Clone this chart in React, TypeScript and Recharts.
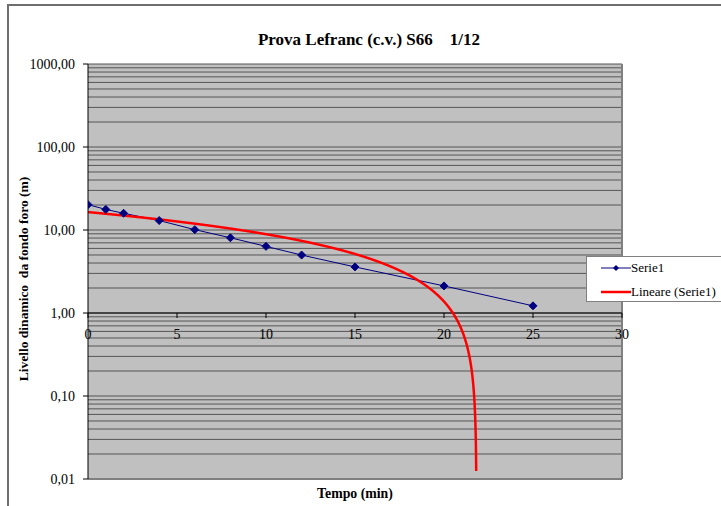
import React from 'react';
import { ComposedChart, Line, XAxis, YAxis, CartesianGrid, ReferenceLine } from 'recharts';

// Prova Lefranc S66 - livello dinamico nel tempo
const tempo = [0, 1, 2, 4, 6, 8, 10, 12, 15, 20, 25];
const livello = [20.2, 17.7, 15.9, 13.0, 10.1, 8.06, 6.35, 4.99, 3.59, 2.12, 1.22];

const xTicks = [0, 5, 10, 15, 20, 25, 30];
const yTicks = [0.01, 0.1, 1, 10, 100, 1000];
const minorSteps = [2, 3, 4, 5, 6, 7, 8, 9];

const W = 721;
const H = 506;
const PLOT_LEFT = 88;
const PLOT_RIGHT = 622;
const PLOT_TOP = 64;
const PLOT_BOTTOM = 479;
const Y_AXIS_W = 70;
const X_AXIS_H = 27;

const FONT = '"Liberation Serif", "Times New Roman", serif';

const serie1 = tempo.map((t, i) => ({ t, v: livello[i] }));

// linear least-squares trendline (Excel "Lineare")
const n = tempo.length;
const mx = tempo.reduce((a, b) => a + b, 0) / n;
const my = livello.reduce((a, b) => a + b, 0) / n;
let sxy = 0;
let sxx = 0;
tempo.forEach((t, i) => {
  sxy += (t - mx) * (livello[i] - my);
  sxx += (t - mx) * (t - mx);
});
const slope = sxy / sxx;
const intercept = my - slope * mx;
const TREND_MIN = 0.0125;
const tEnd = (TREND_MIN - intercept) / slope;
const trend: { t: number; v: number }[] = [];
for (let k = 0; k / 100 < tEnd; k++) {
  const t = k / 100;
  trend.push({ t, v: intercept + slope * t });
}
trend.push({ t: tEnd, v: TREND_MIN });

const gridValues = yTicks.flatMap((d) => (d === 1000 ? [d] : [d, ...minorSteps.map((m) => m * d)]));

// x axis crosses the log axis at 1
const yOne =
  PLOT_TOP + ((PLOT_BOTTOM - PLOT_TOP) * Math.log10(1000 / 1)) / Math.log10(1000 / 0.01);

const XTick = (props: any) => {
  const { x, payload } = props;
  return (
    <g>
      <line x1={x} x2={x} y1={yOne} y2={yOne + 5} stroke="#000" />
      <text x={x} y={yOne + 26} textAnchor="middle" fontFamily={FONT} fontSize={14} fill="#000">
        {payload.value}
      </text>
    </g>
  );
};

const Diamond = (props: any) => {
  const { cx, cy } = props;
  if (cx == null || cy == null) return null;
  const r = 4;
  return (
    <path
      d={`M${cx},${cy - r}L${cx + r},${cy}L${cx},${cy + r}L${cx - r},${cy}Z`}
      fill="#000080"
      stroke="#000080"
    />
  );
};

const fmt = (v: number) => v.toFixed(2).replace('.', ',');

export default function App() {
  return (
    <div style={{ position: 'absolute', left: 0, top: 0, width: W, height: H, background: '#fff', overflow: 'hidden', fontFamily: FONT }}>
      <div style={{ position: 'absolute', left: 7, top: 4, width: W + 10, height: H + 10, border: '2px solid #6e6e6e', boxSizing: 'border-box' }} />
      <div style={{ position: 'absolute', left: 0, top: 0 }}>
        <ComposedChart
          width={W}
          height={H}
          margin={{ top: PLOT_TOP, left: PLOT_LEFT - Y_AXIS_W, right: W - PLOT_RIGHT, bottom: H - PLOT_BOTTOM - X_AXIS_H }}
        >
          <CartesianGrid fill="#c0c0c0" horizontal={false} vertical={false} />
          <XAxis
            dataKey="t"
            type="number"
            domain={[0, 30]}
            ticks={xTicks}
            height={X_AXIS_H}
            axisLine={false}
            tickLine={false}
            tick={<XTick />}
            allowDataOverflow
          />
          <YAxis
            dataKey="v"
            scale="log"
            domain={[0.01, 1000]}
            ticks={yTicks}
            width={Y_AXIS_W}
            allowDataOverflow
            tickFormatter={fmt}
            axisLine={{ stroke: '#000' }}
            tickLine={{ stroke: '#000' }}
            tickSize={5}
            tickMargin={8}
            tick={{ fill: '#000', fontFamily: FONT, fontSize: 14 }}
          />
          {gridValues.map((g) => (
            <ReferenceLine key={g} y={g} stroke="#555" strokeWidth={1} ifOverflow="visible" />
          ))}
          <ReferenceLine y={0.01} stroke="#808080" strokeWidth={2} />
          <ReferenceLine x={30} stroke="#808080" strokeWidth={2} />
          <ReferenceLine y={1} stroke="#000" strokeWidth={1} />
          <Line
            data={serie1}
            dataKey="v"
            type="linear"
            stroke="#000080"
            strokeWidth={1}
            dot={<Diamond />}
            activeDot={false}
            isAnimationActive={false}
          />
          <Line
            data={trend}
            dataKey="v"
            type="linear"
            stroke="#ff0000"
            strokeWidth={2.5}
            dot={false}
            activeDot={false}
            isAnimationActive={false}
          />
        </ComposedChart>
      </div>
      <div style={{ position: 'absolute', left: 169, top: 30, width: 400, textAlign: 'center', fontSize: 17, fontWeight: 'bold', whiteSpace: 'pre', lineHeight: '20px' }}>
        {'Prova Lefranc (c.v.) S66    1/12'}
      </div>
      <div
        style={{
          position: 'absolute',
          left: 24,
          top: 279,
          transform: 'translate(-50%, -50%) rotate(-90deg)',
          fontSize: 13.5,
          fontWeight: 'bold',
          whiteSpace: 'pre',
          lineHeight: '16px',
        }}
      >
        {'Livello dinamico  da fondo foro (m)'}
      </div>
      <div style={{ position: 'absolute', left: 255, top: 486, width: 200, textAlign: 'center', fontSize: 13.8, fontWeight: 'bold', lineHeight: '16px' }}>
        Tempo (min)
      </div>
      <div style={{ position: 'absolute', left: 586, top: 256, width: 140, height: 46, background: '#fff', border: '1px solid #808080', boxSizing: 'border-box' }}>
        <svg width={32} height={46} style={{ position: 'absolute', left: 13, top: 0 }}>
          <line x1={1} x2={31} y1={11} y2={11} stroke="#000080" strokeWidth={1} />
          <path d="M16,8L19,11L16,14L13,11Z" fill="#000080" />
          <line x1={1} x2={31} y1={35} y2={35} stroke="#ff0000" strokeWidth={2.5} />
        </svg>
        <div style={{ position: 'absolute', left: 44, top: 3, fontSize: 13, lineHeight: '16px', whiteSpace: 'nowrap' }}>Serie1</div>
        <div style={{ position: 'absolute', left: 44, top: 27, fontSize: 13, lineHeight: '16px', whiteSpace: 'nowrap' }}>Lineare (Serie1)</div>
      </div>
    </div>
  );
}
